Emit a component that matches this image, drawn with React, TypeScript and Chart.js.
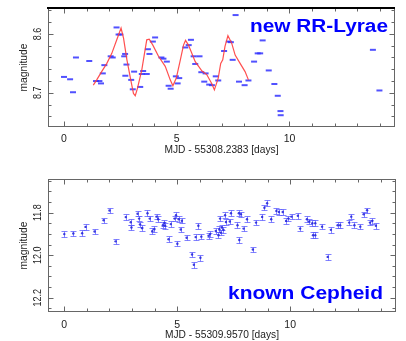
import React, { useEffect, useRef } from "react";
import { Chart, registerables } from "chart.js";

Chart.register(...registerables);

// ---------- axes ----------
const X_MIN = -0.71;
const X_MAX = 14.68;
const X_MAJOR_TICKS = [0, 5, 10];
const X_MAJOR_LABELS = ["0", "5", "10"];
const X_MINOR_TICKS = [0, 1, 2, 3, 4, 5, 6, 7, 8, 9, 10, 11, 12, 13, 14];

const RR_Y_MIN = 8.556;
const RR_Y_MAX = 8.758;
const RR_Y_MAJOR = [8.6, 8.7];
const RR_Y_LABELS = ["8.6", "8.7"];
const RR_Y_MINOR = [8.56, 8.58, 8.6, 8.62, 8.64, 8.66, 8.68, 8.7, 8.72, 8.74];

const CEP_Y_MIN = 11.642;
const CEP_Y_MAX = 12.267;
const CEP_Y_MAJOR = [11.8, 12.0, 12.2];
const CEP_Y_LABELS = ["11.8", "12.0", "12.2"];
const CEP_Y_MINOR = [11.65, 11.7, 11.75, 11.8, 11.85, 11.9, 11.95, 12.0, 12.05, 12.1, 12.15, 12.2, 12.25];

const RR_X_TITLE = "MJD - 55308.2383 [days]";
const CEP_X_TITLE = "MJD - 55309.9570 [days]";
const Y_TITLE = "magnitude";
const RR_NOTE = "new RR-Lyrae";
const CEP_NOTE = "known Cepheid";

// ---------- new RR-Lyrae data ----------
const RR_X = [
  0.0, 0.27, 0.4, 0.53, 1.12, 1.42, 1.57, 1.64, 1.72, 1.79, 2.07, 2.16, 2.33, 2.42, 2.5,
  2.67, 2.71, 2.77, 2.72, 2.98, 3.11, 3.05, 3.38, 3.51, 3.45, 3.67, 3.72, 3.79, 3.94, 4.04,
  4.32, 4.41, 4.56, 4.64, 4.73, 4.96, 5.11, 5.04, 5.38, 5.53, 5.63, 5.75, 5.82, 6.01, 6.09,
  6.28, 6.22, 6.44, 6.56, 6.73, 6.84, 7.1, 7.31, 7.4, 7.61, 7.48, 7.76, 8.01, 8.18, 8.43,
  8.59, 8.7, 8.81, 9.08, 9.33, 9.48, 9.6, 9.61, 13.7, 13.99,
];
const RR_MAG = [
  8.673, 8.677, 8.699, 8.64, 8.646, 8.68, 8.68, 8.684, 8.667, 8.653, 8.638, 8.64, 8.589, 8.601, 8.601,
  8.638, 8.634, 8.652, 8.671, 8.678, 8.664, 8.694, 8.69, 8.663, 8.668, 8.668, 8.626, 8.634, 8.613, 8.606,
  8.64, 8.642, 8.647, 8.688, 8.693, 8.672, 8.675, 8.684, 8.623, 8.619, 8.61, 8.638, 8.651, 8.638, 8.665,
  8.667, 8.681, 8.686, 8.687, 8.672, 8.679, 8.629, 8.613, 8.614, 8.568, 8.644, 8.681, 8.687, 8.679, 8.647,
  8.633, 8.633, 8.611, 8.662, 8.685, 8.705, 8.731, 8.738, 8.627, 8.696,
];

// model curve (red)
const RR_MODEL_X = [
  1.3, 1.45, 1.67, 1.9, 2.12, 2.34, 2.53, 2.64, 2.79, 2.96, 3.08, 3.16, 3.26, 3.45, 3.57,
  3.67, 3.78, 3.94, 4.19, 4.49, 4.71, 4.83, 4.98, 5.16, 5.3, 5.39, 5.52, 5.82, 6.12, 6.33,
  6.55, 6.67, 6.84, 6.95, 7.04, 7.14, 7.27, 7.44, 7.59, 7.81, 8.03, 8.18,
];
const RR_MODEL_MAG = [
  8.687, 8.678, 8.664, 8.65, 8.633, 8.61, 8.59, 8.607, 8.644, 8.678, 8.701, 8.705, 8.692, 8.661, 8.633,
  8.61, 8.609, 8.619, 8.638, 8.655, 8.678, 8.688, 8.675, 8.644, 8.619, 8.611, 8.619, 8.647, 8.663, 8.669,
  8.684, 8.695, 8.675, 8.65, 8.644, 8.621, 8.603, 8.616, 8.636, 8.65, 8.664, 8.678,
];

// ---------- known Cepheid data ----------
const CEP_X = [
  0.01, 0.41, 0.8, 0.95, 1.35, 1.75, 2.01, 2.28, 2.73, 2.95, 2.98, 3.25, 3.32, 3.36, 3.45,
  3.69, 3.79, 3.9, 3.99, 4.09, 4.16, 4.37, 4.44, 4.47, 4.62, 4.72, 4.89, 4.95, 5.01, 5.07,
  5.16, 5.21, 5.42, 5.66, 5.74, 5.82, 5.94, 6.03, 6.07, 6.39, 6.46, 6.71, 6.83, 6.87, 6.93,
  6.98, 7.05, 6.9, 7.12, 7.16, 7.38, 7.33, 7.67, 7.73, 7.82, 7.75, 7.94, 8.09, 8.35, 8.49,
  8.76, 8.86, 8.98, 9.16, 9.39, 9.5, 9.67, 9.82, 9.92, 10.06, 10.34, 10.44, 10.74, 10.84, 10.98,
  11.11, 11.01, 11.11, 11.41, 11.66, 11.8, 12.1, 12.21, 12.61, 12.7, 12.84, 13.1, 13.25, 13.4, 13.53,
  13.63, 13.79,
];
const CEP_MAG = [
  11.901, 11.898, 11.897, 11.867, 11.889, 11.836, 11.79, 11.935, 11.821, 11.845, 11.87, 11.805, 11.828, 11.855, 11.873,
  11.803, 11.828, 11.887, 11.878, 11.819, 11.831, 11.859, 11.848, 11.862, 11.925, 11.854, 11.828, 11.812, 11.946, 11.831,
  11.879, 11.838, 11.918, 11.997, 12.045, 11.915, 11.862, 12.012, 11.913, 11.909, 11.901, 11.886, 11.906, 11.878, 11.894,
  11.87, 11.881, 11.828, 11.812, 11.844, 11.803, 11.842, 11.859, 11.803, 11.808, 11.929, 11.875, 11.831, 11.973, 11.847,
  11.82, 11.777, 11.756, 11.831, 11.792, 11.797, 11.797, 11.839, 11.828, 11.819, 11.815, 11.875, 11.831, 11.842, 11.85,
  11.85, 11.906, 11.906, 11.866, 12.008, 11.881, 11.859, 11.859, 11.847, 11.819, 11.859, 11.866, 11.808, 11.789, 11.847,
  11.839, 11.862,
];
const CEP_ERR = 0.013;

// ---------- helpers ----------
const FONT = '"Liberation Sans", Arial, Helvetica, sans-serif';

function drawText(
  ctx: CanvasRenderingContext2D,
  text: string,
  x: number,
  y: number,
  size: number,
  opts: { bold?: boolean; color?: string; rotate?: number; width?: number; scaleX?: number; shift?: number } = {}
) {
  const { bold = false, color = "#222", rotate = 0, width, scaleX = 1, shift = 0.358 } = opts;
  ctx.save();
  ctx.translate(x, y);
  if (rotate) ctx.rotate(rotate);
  ctx.font = `${bold ? "bold " : ""}${size}px ${FONT}`;
  const w = ctx.measureText(text).width;
  const sx = width ? width / w : scaleX;
  ctx.scale(sx, 1);
  ctx.fillStyle = color;
  ctx.textAlign = "center";
  ctx.textBaseline = "alphabetic";
  ctx.fillText(text, 0, size * shift);
  ctx.restore();
}

type FrameCfg = {
  id: string;
  yMajor: number[];
  yLabels: string[];
  yMinor: number[];
  xTitle: string;
  tickLabelY: number;
  titleY: number;
  note: string;
  noteX: number;
  noteBaseline: number;
  noteWidth: number;
  thickTop: boolean;
};

function makeFramePlugin(cfg: FrameCfg) {
  return {
    id: cfg.id,
    afterDraw(chart: any) {
      const ctx: CanvasRenderingContext2D = chart.ctx;
      const a = chart.chartArea;
      const xs = chart.scales.x;
      const ys = chart.scales.y;
      const L = a.left + 0.5;
      const R = a.right - 0.5;
      const T = a.top + 0.5;
      const B = a.bottom - 0.5;
      ctx.save();
      ctx.strokeStyle = "#666";
      ctx.lineWidth = 1;
      ctx.beginPath();
      // x ticks (bottom and top, inward)
      for (const v of X_MINOR_TICKS) {
        const px = Math.round(xs.getPixelForValue(v)) + 0.5;
        const len = X_MAJOR_TICKS.includes(v) ? 5 : 3;
        ctx.moveTo(px, B);
        ctx.lineTo(px, B - len);
        ctx.moveTo(px, T);
        ctx.lineTo(px, T + len);
      }
      // y ticks (left and right, inward)
      for (const v of cfg.yMinor) {
        const py = Math.round(ys.getPixelForValue(v)) + 0.5;
        const len = cfg.yMajor.some((m) => Math.abs(m - v) < 1e-6) ? 5 : 3;
        ctx.moveTo(L, py);
        ctx.lineTo(L + len, py);
        ctx.moveTo(R, py);
        ctx.lineTo(R - len, py);
      }
      ctx.stroke();
      ctx.strokeRect(L, T, R - L, B - T);
      if (cfg.thickTop) {
        ctx.strokeStyle = "#000";
        ctx.lineWidth = 2;
        ctx.beginPath();
        ctx.moveTo(a.left - 1, a.top);
        ctx.lineTo(a.right, a.top);
        ctx.stroke();
      }
      ctx.restore();

      // x tick labels
      X_MAJOR_TICKS.forEach((v, i) => {
        drawText(ctx, X_MAJOR_LABELS[i], xs.getPixelForValue(v), cfg.tickLabelY, 10.5, { color: "#222" });
      });
      // x title
      drawText(ctx, cfg.xTitle, (a.left + a.right) / 2, cfg.titleY, 10.5, { color: "#222", width: 114 });
      // y tick labels (rotated)
      cfg.yMajor.forEach((v, i) => {
        drawText(ctx, cfg.yLabels[i], 37, ys.getPixelForValue(v), 10, {
          color: "#222",
          rotate: -Math.PI / 2,
          scaleX: 0.9,
        });
      });
      // y title
      drawText(ctx, Y_TITLE, 23.5, (a.top + a.bottom) / 2, 10.5, {
        color: "#222",
        rotate: -Math.PI / 2,
        width: 48,
        shift: 0.3,
      });
      // annotation
      drawText(ctx, cfg.note, cfg.noteX, cfg.noteBaseline, 18, {
        bold: true,
        color: "#0000ff",
        width: cfg.noteWidth,
        shift: 0,
      });
    },
  };
}

const errorBarPlugin = {
  id: "cepErrorBars",
  beforeDatasetsDraw(chart: any) {
    const ctx: CanvasRenderingContext2D = chart.ctx;
    const xs = chart.scales.x;
    const ys = chart.scales.y;
    const a = chart.chartArea;
    ctx.save();
    ctx.beginPath();
    ctx.rect(a.left, a.top, a.right - a.left, a.bottom - a.top);
    ctx.clip();
    ctx.strokeStyle = "rgba(90,90,255,0.75)";
    ctx.lineWidth = 1;
    ctx.beginPath();
    CEP_X.forEach((xv, i) => {
      const px = Math.round(xs.getPixelForValue(xv)) + 0.5;
      const y1 = Math.round(ys.getPixelForValue(CEP_MAG[i] - CEP_ERR)) + 0.5;
      const y2 = Math.round(ys.getPixelForValue(CEP_MAG[i] + CEP_ERR)) + 0.5;
      ctx.moveTo(px, y1);
      ctx.lineTo(px, y2);
      ctx.moveTo(px - 3, y1);
      ctx.lineTo(px + 3, y1);
      ctx.moveTo(px - 3, y2);
      ctx.lineTo(px + 3, y2);
    });
    ctx.stroke();
    ctx.restore();
  },
};

function useChart(ref: React.RefObject<HTMLCanvasElement | null>, build: () => any) {
  useEffect(() => {
    if (!ref.current) return;
    const chart = new Chart(ref.current, build());
    return () => chart.destroy();
  }, []);
}

export default function App() {
  const topRef = useRef<HTMLCanvasElement | null>(null);
  const botRef = useRef<HTMLCanvasElement | null>(null);

  useChart(topRef, () => ({
    type: "scatter",
    data: {
      datasets: [
        {
          label: "model",
          data: RR_MODEL_X.map((x, i) => ({ x, y: RR_MODEL_MAG[i] })),
          showLine: true,
          borderColor: "rgba(255,60,60,0.9)",
          borderWidth: 1.2,
          pointRadius: 0,
          tension: 0,
        },
        {
          label: "RR-Lyrae",
          data: RR_X.map((x, i) => ({ x, y: RR_MAG[i] })),
          pointStyle: "line",
          pointRadius: 3,
          borderWidth: 2,
          borderColor: "rgba(50,50,255,0.85)",
          backgroundColor: "rgba(50,50,255,0.85)",
        },
      ],
    },
    options: {
      animation: false,
      responsive: false,
      devicePixelRatio: 1,
      layout: { padding: { left: 48, top: 8, right: 11, bottom: 43 } },
      plugins: { legend: { display: false }, tooltip: { enabled: false } },
      scales: {
        x: { type: "linear", min: X_MIN, max: X_MAX, display: false },
        y: { type: "linear", min: RR_Y_MIN, max: RR_Y_MAX, reverse: true, display: false },
      },
    },
    plugins: [
      makeFramePlugin({
        id: "frameTop",
        yMajor: RR_Y_MAJOR,
        yLabels: RR_Y_LABELS,
        yMinor: RR_Y_MINOR,
        xTitle: RR_X_TITLE,
        tickLabelY: 138.5,
        titleY: 149.5,
        note: RR_NOTE,
        noteX: 319,
        noteBaseline: 31.7,
        noteWidth: 138,
        thickTop: true,
      }),
    ],
  }));

  useChart(botRef, () => ({
    type: "scatter",
    data: {
      datasets: [
        {
          label: "Cepheid",
          data: CEP_X.map((x, i) => ({ x, y: CEP_MAG[i] })),
          pointStyle: "circle",
          pointRadius: 1.2,
          borderWidth: 0,
          backgroundColor: "rgba(40,40,220,0.9)",
        },
      ],
    },
    options: {
      animation: false,
      responsive: false,
      devicePixelRatio: 1,
      layout: { padding: { left: 48, top: 9, right: 10, bottom: 29 } },
      plugins: { legend: { display: false }, tooltip: { enabled: false } },
      scales: {
        x: { type: "linear", min: X_MIN, max: X_MAX, display: false },
        y: { type: "linear", min: CEP_Y_MIN, max: CEP_Y_MAX, reverse: true, display: false },
      },
    },
    plugins: [
      errorBarPlugin,
      makeFramePlugin({
        id: "frameBottom",
        yMajor: CEP_Y_MAJOR,
        yLabels: CEP_Y_LABELS,
        yMinor: CEP_Y_MINOR,
        xTitle: CEP_X_TITLE,
        tickLabelY: 154,
        titleY: 164.5,
        note: CEP_NOTE,
        noteX: 305.5,
        noteBaseline: 128.7,
        noteWidth: 155,
        thickTop: false,
      }),
    ],
  }));

  return (
    <div style={{ position: "absolute", left: 0, top: 0, width: 406, height: 341, background: "#fff" }}>
      <canvas ref={topRef} width={406} height={170} style={{ display: "block", width: 406, height: 170 }} />
      <canvas ref={botRef} width={406} height={171} style={{ display: "block", width: 406, height: 171 }} />
    </div>
  );
}
